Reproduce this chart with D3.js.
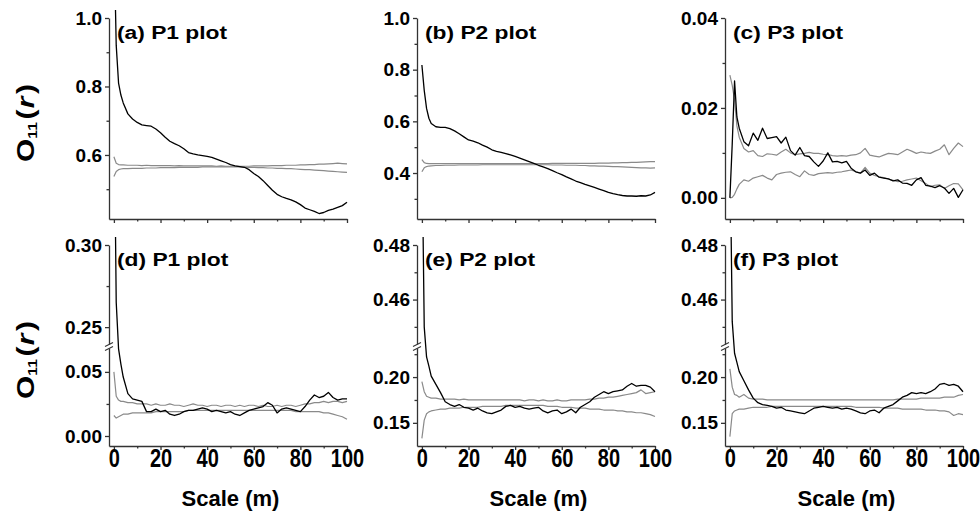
<!DOCTYPE html>
<html>
<head>
<meta charset="utf-8">
<script src="https://cdn.jsdelivr.net/npm/d3@7/dist/d3.min.js"></script>
<style>
  body { margin: 0; background: #fff; }
  text { font-family: "Liberation Sans", Arial, sans-serif; font-weight: bold; fill: #000; }
  .tick text { font-size: 19px; }
  .axis path, .axis line { stroke: #333; stroke-width: 1.3; }
</style>
</head>
<body>
<svg id="chart" width="980" height="513"></svg>
<script>
// x values (scale, m)
var scale = [0,1,2,3,4,6,8,10,12,14,16,18,20,22,24,26,28,30,32,34,36,38,40,42,44,46,48,50,52,54,56,58,60,62,64,66,68,70,72,74,76,78,80,82,84,86,88,90,92,94,96,98,100];
var xTicks = [0,20,40,60,80,100];
var xMinor = [10,30,50,70,90];

// (a) P1 plot
var aObs = [1.25,0.92,0.81,0.775,0.752, 0.72,0.705,0.695,0.688,0.686,0.684,0.676,0.665,0.652,0.640, 0.633,0.627,0.618,0.607,0.603,0.600,0.598,0.596,0.593,0.588, 0.583,0.578,0.572,0.568,0.566,0.564,0.557,0.546,0.537,0.525, 0.511,0.497,0.485,0.478,0.473,0.469,0.463,0.455,0.445,0.440, 0.435,0.429,0.432,0.438,0.442,0.447,0.452,0.462];
var aHi = [0.595,0.576,0.572,0.571,0.571, 0.570,0.570,0.570,0.569,0.570,0.569,0.569,0.569,0.569,0.569, 0.568,0.569,0.568,0.568,0.568,0.568,0.568,0.568,0.568,0.567, 0.568,0.567,0.567,0.567,0.567,0.567,0.567,0.568,0.568,0.568, 0.568,0.569,0.569,0.569,0.570,0.570,0.570,0.571,0.571,0.572, 0.572,0.573,0.573,0.574,0.575,0.576,0.575,0.574];
var aLo = [0.537,0.552,0.557,0.559,0.560, 0.560,0.561,0.561,0.561,0.562,0.562,0.562,0.563,0.563,0.563, 0.563,0.564,0.564,0.564,0.564,0.564,0.565,0.565,0.565,0.565, 0.565,0.565,0.565,0.565,0.565,0.564,0.564,0.564,0.563,0.563, 0.562,0.562,0.561,0.561,0.560,0.560,0.559,0.558,0.557,0.557, 0.556,0.555,0.554,0.553,0.552,0.551,0.550,0.549];
var aTicks = [0.6,0.8,1.0], aMinor = [0.5,0.7,0.9];

// (b) P2 plot
var bObs = [0.818,0.72,0.65,0.612,0.592, 0.579,0.577,0.577,0.572,0.563,0.552,0.540,0.528,0.523,0.517, 0.508,0.500,0.490,0.484,0.480,0.475,0.470,0.464,0.458,0.451, 0.444,0.437,0.430,0.424,0.417,0.409,0.401,0.394,0.385,0.377, 0.369,0.363,0.356,0.350,0.344,0.338,0.332,0.325,0.320,0.316, 0.313,0.311,0.311,0.310,0.312,0.311,0.315,0.325];
var bHi = [0.452,0.440,0.437,0.436,0.436, 0.436,0.436,0.436,0.436,0.436,0.436,0.436,0.436,0.436,0.436, 0.436,0.436,0.436,0.436,0.436,0.436,0.436,0.436,0.436,0.436, 0.436,0.436,0.436,0.436,0.436,0.437,0.437,0.437,0.437,0.437, 0.437,0.437,0.437,0.437,0.437,0.438,0.438,0.438,0.439,0.439, 0.440,0.440,0.441,0.441,0.442,0.443,0.444,0.444];
var bLo = [0.405,0.420,0.425,0.427,0.428, 0.429,0.429,0.430,0.430,0.430,0.431,0.431,0.431,0.431,0.431, 0.432,0.432,0.432,0.432,0.432,0.432,0.432,0.432,0.432,0.432, 0.432,0.432,0.432,0.432,0.432,0.431,0.431,0.431,0.430,0.430, 0.430,0.429,0.429,0.428,0.428,0.427,0.427,0.426,0.425,0.425, 0.424,0.423,0.422,0.421,0.420,0.420,0.419,0.420];
var bTicks = [0.4,0.6,0.8,1.0], bMinor = [0.3,0.5,0.7,0.9];

// (c) P3 plot
var cObs = [0,0.012,0.026,0.018,0.0155, 0.0125,0.0116,0.0144,0.0128,0.0155,0.0132,0.0134,0.0136,0.0122,0.0135, 0.0105,0.0095,0.0112,0.0094,0.0092,0.0080,0.0070,0.0082,0.0100,0.0080, 0.0081,0.0078,0.0081,0.0066,0.0058,0.0055,0.0062,0.0050,0.0055,0.0046, 0.0044,0.0042,0.0038,0.0040,0.0033,0.0032,0.0028,0.0040,0.0045,0.0028, 0.0026,0.0023,0.0027,0.0022,0.0010,0.0021,0.0001,0.0018];
var cHi = [0.0273,0.025,0.0218,0.016,0.0135, 0.0110,0.0102,0.0105,0.0094,0.0092,0.0098,0.0097,0.0095,0.0102,0.0108, 0.0100,0.0096,0.0098,0.0099,0.0101,0.0099,0.0099,0.0097,0.0096,0.0094, 0.0093,0.0094,0.0093,0.0095,0.0096,0.0100,0.0110,0.0095,0.0093,0.0091, 0.0095,0.0099,0.0098,0.0096,0.0102,0.0108,0.0104,0.0099,0.0102,0.0100, 0.0099,0.0104,0.0108,0.0118,0.0096,0.0110,0.0122,0.0114];
var cLo = [0,0.0001,0.0008,0.002,0.003, 0.0040,0.0037,0.0044,0.0047,0.0050,0.0044,0.0040,0.0052,0.0055,0.0057, 0.0058,0.0052,0.0047,0.0060,0.0052,0.0050,0.0054,0.0055,0.0056,0.0055, 0.0057,0.0058,0.0060,0.0062,0.0058,0.0055,0.0068,0.0055,0.0050,0.0047, 0.0045,0.0042,0.0039,0.0036,0.0037,0.0040,0.0042,0.0044,0.0038,0.0032, 0.0025,0.0028,0.0029,0.0021,0.0027,0.0032,0.0031,0.0018];
var cTicks = [0,0.02,0.04], cMinor = [0.01,0.03];

// (d) P1 plot (broken axis)
var dObs = [0.40,0.265,0.068,0.056,0.046, 0.033,0.029,0.028,0.027,0.019,0.019,0.021,0.019,0.020,0.017, 0.016,0.017,0.019,0.020,0.020,0.021,0.022,0.021,0.019,0.020, 0.019,0.018,0.019,0.017,0.016,0.018,0.020,0.021,0.022,0.023, 0.026,0.024,0.018,0.021,0.022,0.021,0.020,0.019,0.023,0.028, 0.032,0.030,0.031,0.034,0.030,0.028,0.029,0.029];
var dHi = [0.050,0.031,0.028,0.027,0.027, 0.026,0.026,0.025,0.025,0.025,0.024,0.025,0.024,0.024,0.025, 0.024,0.024,0.023,0.024,0.025,0.024,0.024,0.023,0.024,0.024, 0.023,0.024,0.024,0.023,0.024,0.023,0.024,0.024,0.023,0.024, 0.023,0.023,0.024,0.023,0.024,0.024,0.023,0.024,0.025,0.025, 0.026,0.026,0.027,0.026,0.027,0.027,0.026,0.027];
var dLo = [0.016,0.014,0.015,0.016,0.017, 0.017,0.018,0.018,0.018,0.018,0.018,0.019,0.019,0.019,0.019, 0.019,0.019,0.019,0.020,0.020,0.020,0.020,0.020,0.020,0.020, 0.020,0.020,0.020,0.020,0.020,0.020,0.020,0.020,0.020,0.020, 0.020,0.020,0.020,0.020,0.020,0.020,0.019,0.019,0.019,0.019, 0.019,0.019,0.018,0.018,0.017,0.016,0.015,0.013];
var dTicksLow = [0,0.05], dTicksHigh = [0.25,0.30];
var dMinorLow = [0.025], dMinorHigh = [0.275];

// (e) P2 plot (broken axis)
var eObs = [0.52,0.450,0.222,0.212,0.201, 0.192,0.183,0.173,0.170,0.168,0.170,0.167,0.166,0.164,0.166, 0.163,0.161,0.160,0.162,0.164,0.168,0.169,0.167,0.168,0.166, 0.165,0.166,0.167,0.163,0.161,0.163,0.164,0.160,0.162,0.165, 0.161,0.167,0.170,0.173,0.178,0.181,0.184,0.182,0.184,0.185, 0.186,0.190,0.193,0.190,0.191,0.191,0.189,0.184];
var eHi = [0.195,0.184,0.179,0.178,0.177, 0.177,0.176,0.176,0.176,0.176,0.175,0.176,0.175,0.175,0.175, 0.175,0.175,0.175,0.175,0.175,0.175,0.175,0.175,0.175,0.174, 0.175,0.175,0.174,0.175,0.174,0.174,0.175,0.174,0.174,0.175, 0.175,0.175,0.175,0.176,0.176,0.177,0.177,0.178,0.178,0.179, 0.180,0.181,0.182,0.183,0.186,0.182,0.183,0.184];
var eLo = [0.133,0.153,0.160,0.162,0.163, 0.164,0.165,0.165,0.166,0.166,0.166,0.167,0.167,0.167,0.167, 0.168,0.168,0.168,0.168,0.168,0.169,0.169,0.169,0.169,0.169, 0.169,0.169,0.169,0.169,0.168,0.168,0.168,0.167,0.167,0.167, 0.166,0.166,0.166,0.165,0.165,0.165,0.164,0.164,0.164,0.163, 0.163,0.162,0.162,0.161,0.161,0.160,0.159,0.157];

// (f) P3 plot (broken axis)
var fObs = [0.52,0.452,0.226,0.216,0.206, 0.196,0.186,0.177,0.172,0.170,0.169,0.168,0.166,0.167,0.164, 0.163,0.162,0.161,0.160,0.163,0.166,0.167,0.168,0.167,0.166, 0.167,0.165,0.166,0.165,0.163,0.161,0.160,0.163,0.164,0.161, 0.166,0.168,0.170,0.174,0.178,0.180,0.183,0.182,0.183,0.182, 0.184,0.187,0.192,0.193,0.191,0.192,0.190,0.184];
var fHi = [0.209,0.189,0.181,0.180,0.178, 0.181,0.177,0.176,0.176,0.176,0.175,0.175,0.175,0.175,0.175, 0.175,0.175,0.175,0.175,0.175,0.175,0.175,0.175,0.175,0.175, 0.175,0.175,0.175,0.175,0.175,0.175,0.175,0.175,0.175,0.175, 0.175,0.175,0.175,0.176,0.176,0.176,0.176,0.176,0.177,0.177, 0.177,0.177,0.177,0.178,0.178,0.178,0.180,0.181];
var fLo = [0.135,0.160,0.163,0.164,0.165, 0.165,0.166,0.167,0.167,0.167,0.167,0.168,0.168,0.168,0.168, 0.168,0.168,0.168,0.168,0.168,0.168,0.168,0.168,0.168,0.168, 0.168,0.168,0.168,0.168,0.167,0.167,0.167,0.167,0.167,0.167, 0.166,0.166,0.166,0.166,0.165,0.165,0.165,0.165,0.165,0.164, 0.164,0.164,0.163,0.163,0.162,0.158,0.160,0.159];
var efTicksLow = [0.15,0.20], efTicksHigh = [0.46,0.48];
var efMinorLow = [0.175,0.225], efMinorHigh = [0.45,0.47];

var svg = d3.select("#chart");
var colX = [109, 417, 725];
var rows = [{ top: 18, bot: 219 }, { top: 245, bot: 446, brk: 346.5 }];
var plotW = 238;

var panels = [
  { title: "(a) P1 plot", row: 0, col: 0, obs: aObs, hi: aHi, lo: aLo, domain: [0.413, 1.0], ticks: aTicks, minor: aMinor, fmt: ".1f" },
  { title: "(b) P2 plot", row: 0, col: 1, obs: bObs, hi: bHi, lo: bLo, domain: [0.222, 1.0], ticks: bTicks, minor: bMinor, fmt: ".1f" },
  { title: "(c) P3 plot", row: 0, col: 2, obs: cObs, hi: cHi, lo: cLo, domain: [-0.0047, 0.04], ticks: cTicks, minor: cMinor, fmt: ".2f" },
  { title: "(d) P1 plot", row: 1, col: 0, obs: dObs, hi: dHi, lo: dLo, low: [-0.0078, 0.0698], high: [0.2382, 0.30],
    ticksLow: dTicksLow, ticksHigh: dTicksHigh, minorLow: dMinorLow, minorHigh: dMinorHigh, fmt: ".2f" },
  { title: "(e) P2 plot", row: 1, col: 1, obs: eObs, hi: eHi, lo: eLo, low: [0.1247, 0.2334], high: [0.4428, 0.48],
    ticksLow: efTicksLow, ticksHigh: efTicksHigh, minorLow: efMinorLow, minorHigh: efMinorHigh, fmt: ".2f" },
  { title: "(f) P3 plot", row: 1, col: 2, obs: fObs, hi: fHi, lo: fLo, low: [0.1247, 0.2334], high: [0.4428, 0.48],
    ticksLow: efTicksLow, ticksHigh: efTicksHigh, minorLow: efMinorLow, minorHigh: efMinorHigh, fmt: ".2f" }
];

function leftAxis(g, sc, ticks, minor, fmt) {
  g.attr("class", "axis")
    .call(d3.axisLeft(sc).tickValues(ticks).tickSize(4).tickSizeOuter(0).tickFormat(d3.format(fmt)));
  g.append("g")
    .call(d3.axisLeft(sc).tickValues(minor).tickSize(2.5).tickFormat(""))
    .select(".domain").remove();
}

panels.forEach(function (p, i) {
  var r = rows[p.row];
  var ax = colX[p.col];
  var g = svg.append("g");

  var x = d3.scaleLinear().domain([-2.1, 100]).range([ax, ax + plotW]);
  var y, yLow, yHigh;
  if (p.row === 0) {
    y = d3.scaleLinear().domain(p.domain).range([r.bot, r.top]);
  } else {
    yLow = d3.scaleLinear().domain(p.low).range([r.bot, r.brk]);
    yHigh = d3.scaleLinear().domain(p.high).range([r.brk, r.top]);
    y = function (v) {
      if (v <= p.low[1]) return yLow(v);
      if (v >= p.high[0]) return yHigh(v);
      return r.brk;
    };
  }

  // clip
  svg.append("clipPath").attr("id", "clip" + i)
    .append("rect").attr("x", ax).attr("y", r.top - 8)
    .attr("width", plotW + 2).attr("height", r.bot - r.top + 8);

  var line = d3.line().x(function (d) { return x(d[0]); }).y(function (d) { return y(d[1]); });
  var series = [
    { vals: p.hi, color: "#8a8a8a", w: 1.2 },
    { vals: p.lo, color: "#8a8a8a", w: 1.2 },
    { vals: p.obs, color: "#000", w: 1.3 }
  ];
  g.append("g").attr("clip-path", "url(#clip" + i + ")")
    .selectAll("path").data(series).enter().append("path")
    .attr("fill", "none")
    .attr("stroke", function (d) { return d.color; })
    .attr("stroke-width", function (d) { return d.w; })
    .attr("stroke-linejoin", "round")
    .attr("d", function (d) { return line(scale.map(function (s, k) { return [s, d.vals[k]]; })); });

  // x axis
  var xg = g.append("g").attr("class", "axis").attr("transform", "translate(0," + r.bot + ")")
    .call(d3.axisBottom(x).tickValues(xTicks).tickSize(4).tickSizeOuter(0)
      .tickFormat(p.row === 1 ? d3.format("d") : ""));
  xg.append("g").call(d3.axisBottom(x).tickValues(xMinor).tickSize(2.5).tickFormat(""))
    .select(".domain").remove();
  if (p.row === 1) {
    xg.selectAll(".tick text").attr("y", 0).attr("dy", 0)
      .attr("transform", "translate(0,20.5) scale(1,1.25)").style("font-size", "20px");
  }

  // y axis
  if (p.row === 0) {
    leftAxis(g.append("g").attr("transform", "translate(" + ax + ",0)"), y, p.ticks, p.minor, p.fmt);
  } else {
    leftAxis(g.append("g").attr("transform", "translate(" + ax + ",0)"), yLow, p.ticksLow, p.minorLow, p.fmt);
    leftAxis(g.append("g").attr("transform", "translate(" + ax + ",0)"), yHigh, p.ticksHigh, p.minorHigh, p.fmt);
    // break marks
    g.append("rect").attr("x", ax - 2).attr("y", r.brk - 2).attr("width", 4).attr("height", 4).attr("fill", "#fff");
    [-2, 2].forEach(function (o) {
      g.append("line")
        .attr("x1", ax - 4).attr("y1", r.brk + o + 2)
        .attr("x2", ax + 4).attr("y2", r.brk + o - 2)
        .attr("stroke", "#333").attr("stroke-width", 1.2);
    });
  }

  // title
  g.append("text")
    .attr("transform", "translate(" + (ax + 8) + "," + (r.top + 21) + ") scale(1.2,1)")
    .style("font-size", "19px")
    .text(p.title);

  // x label
  if (p.row === 1) {
    g.append("text")
      .attr("x", x(50)).attr("y", 506)
      .attr("text-anchor", "middle")
      .style("font-size", "22px")
      .text("Scale (m)");
  }
});

// y labels
[123, 360].forEach(function (cy) {
  var t = svg.append("text")
    .attr("transform", "translate(34," + cy + ") rotate(-90) scale(1.3,1)")
    .attr("text-anchor", "middle")
    .style("font-size", "23px");
  t.append("tspan").text("O");
  t.append("tspan").attr("dy", 3).style("font-size", "12px").text("11");
  t.append("tspan").attr("dy", -3).attr("dx", 2).text("(");
  t.append("tspan").attr("dx", 1).style("font-style", "italic").text("r");
  t.append("tspan").attr("dx", 2).text(")");
});
</script>
</body>
</html>
